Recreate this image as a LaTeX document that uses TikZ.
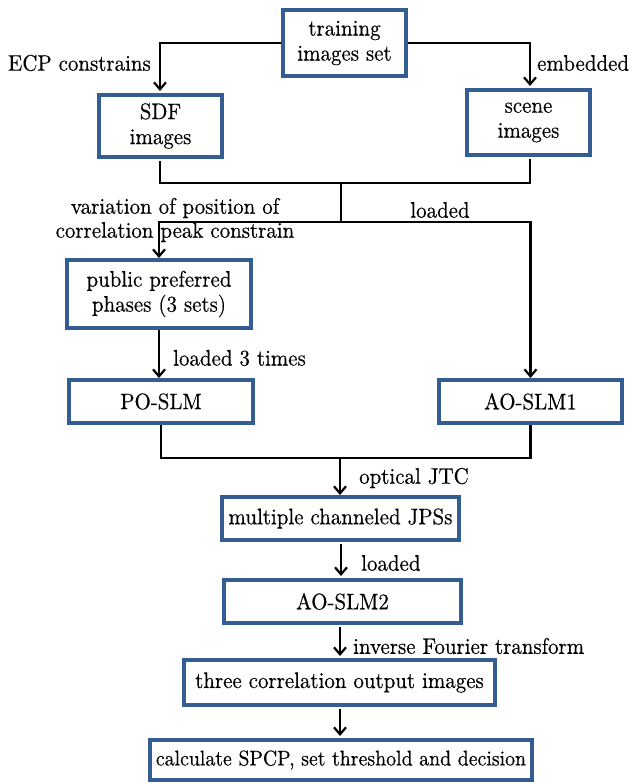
\documentclass[tikz,border=0pt]{standalone}
\usepackage{fontspec}
\setmainfont{lmroman10-regular}[Extension=.otf,FakeStretch=0.93,FakeBold=0.4]
\usetikzlibrary{arrows.meta,positioning}
\definecolor{boxblue}{RGB}{52,94,145}
\begin{document}
\begin{tikzpicture}[x=1pt,y=1pt,
  box/.style={draw=boxblue,line width=4pt,fill=white,align=center,inner sep=0pt,
    font=\fontsize{22.5}{25}\selectfont},
  lbl/.style={inner sep=0pt,align=center,font=\fontsize{22.5}{24}\selectfont},
  conn/.style={line width=2.4pt,black},
  arr/.style={conn,-{Straight Barb[length=7pt,width=12pt,line width=2.2pt]}}]
\useasboundingbox (0,0) rectangle (633,-784);
% boxes
\node[box,minimum width=123pt,minimum height=66pt] (train) at (344.5,-43) {training\\images set};
\node[box,minimum width=123pt,minimum height=62pt] (sdf) at (160.5,-126) {SDF\\images};
\node[box,minimum width=123pt,minimum height=65pt] (scene) at (528.5,-122.5) {scene\\images};
\node[box,minimum width=184pt,minimum height=68pt] (pub) at (159,-294) {public preferred\\phases (3 sets)};
\node[box,minimum width=184pt,minimum height=43pt] (po) at (161,-401.5) {PO-SLM};
\node[box,minimum width=183pt,minimum height=43pt] (ao1) at (530.5,-401.5) {AO-SLM1};
\node[box,minimum width=237pt,minimum height=43pt] (jps) at (340.5,-518.5) {multiple channeled JPSs};
\node[box,minimum width=237pt,minimum height=43pt] (ao2) at (342.5,-601.5) {AO-SLM2};
\node[box,minimum width=311pt,minimum height=45pt] (three) at (339.5,-682.5) {three correlation output images};
\node[box,minimum width=382pt,minimum height=40pt,font=\fontsize{21.3}{25}\selectfont] (calc) at (341,-760) {calculate SPCP, set threshold and decision};
% junction coordinates
\coordinate (j1) at (341,-183);
\coordinate (j2) at (341,-222);
\coordinate (j3) at (340,-458);
% connectors
\draw[arr] (train.west) -| (160,-91);
\draw[arr] (train.east) -| (530,-86);
\draw[conn] (160,-161) |- (j1);
\draw[conn] (530,-159) |- (j1);
\draw[conn] (j1) -- (j2);
\draw[arr] (j2) -| (pub.north);
\draw[arr] (j2) -| (ao1.north);
\draw[arr] (pub.south) -- (pub.south |- po.north);
\draw[conn] (po.south) |- (j3);
\draw[conn] (ao1.south) |- (j3);
\draw[arr] (j3) -- (j3 |- jps.north);
\draw[arr] (341,-544) -- (341,-576);
\draw[arr] (340,-627) -- (340,-656);
\draw[arr] (340,-709) -- (340,-736);
% labels
\node[lbl,anchor=east] (l1) at (151,-63) {ECP constrains};
\node[lbl,anchor=west] (l2) at (537,-63) {embedded};
\node[lbl] (l3) at (175,-220) {variation of position of\\correlation peak constrain};
\node[lbl] (l4) at (440,-210) {loaded};
\node[lbl,anchor=west] (l5) at (173,-358) {loaded 3 times};
\node[lbl,anchor=west] (l6) at (359,-478) {optical JTC};
\node[lbl,anchor=west] (l7) at (361,-563) {loaded};
\node[lbl,anchor=west] (l8) at (353,-646) {inverse Fourier transform};
\end{tikzpicture}
\end{document}
